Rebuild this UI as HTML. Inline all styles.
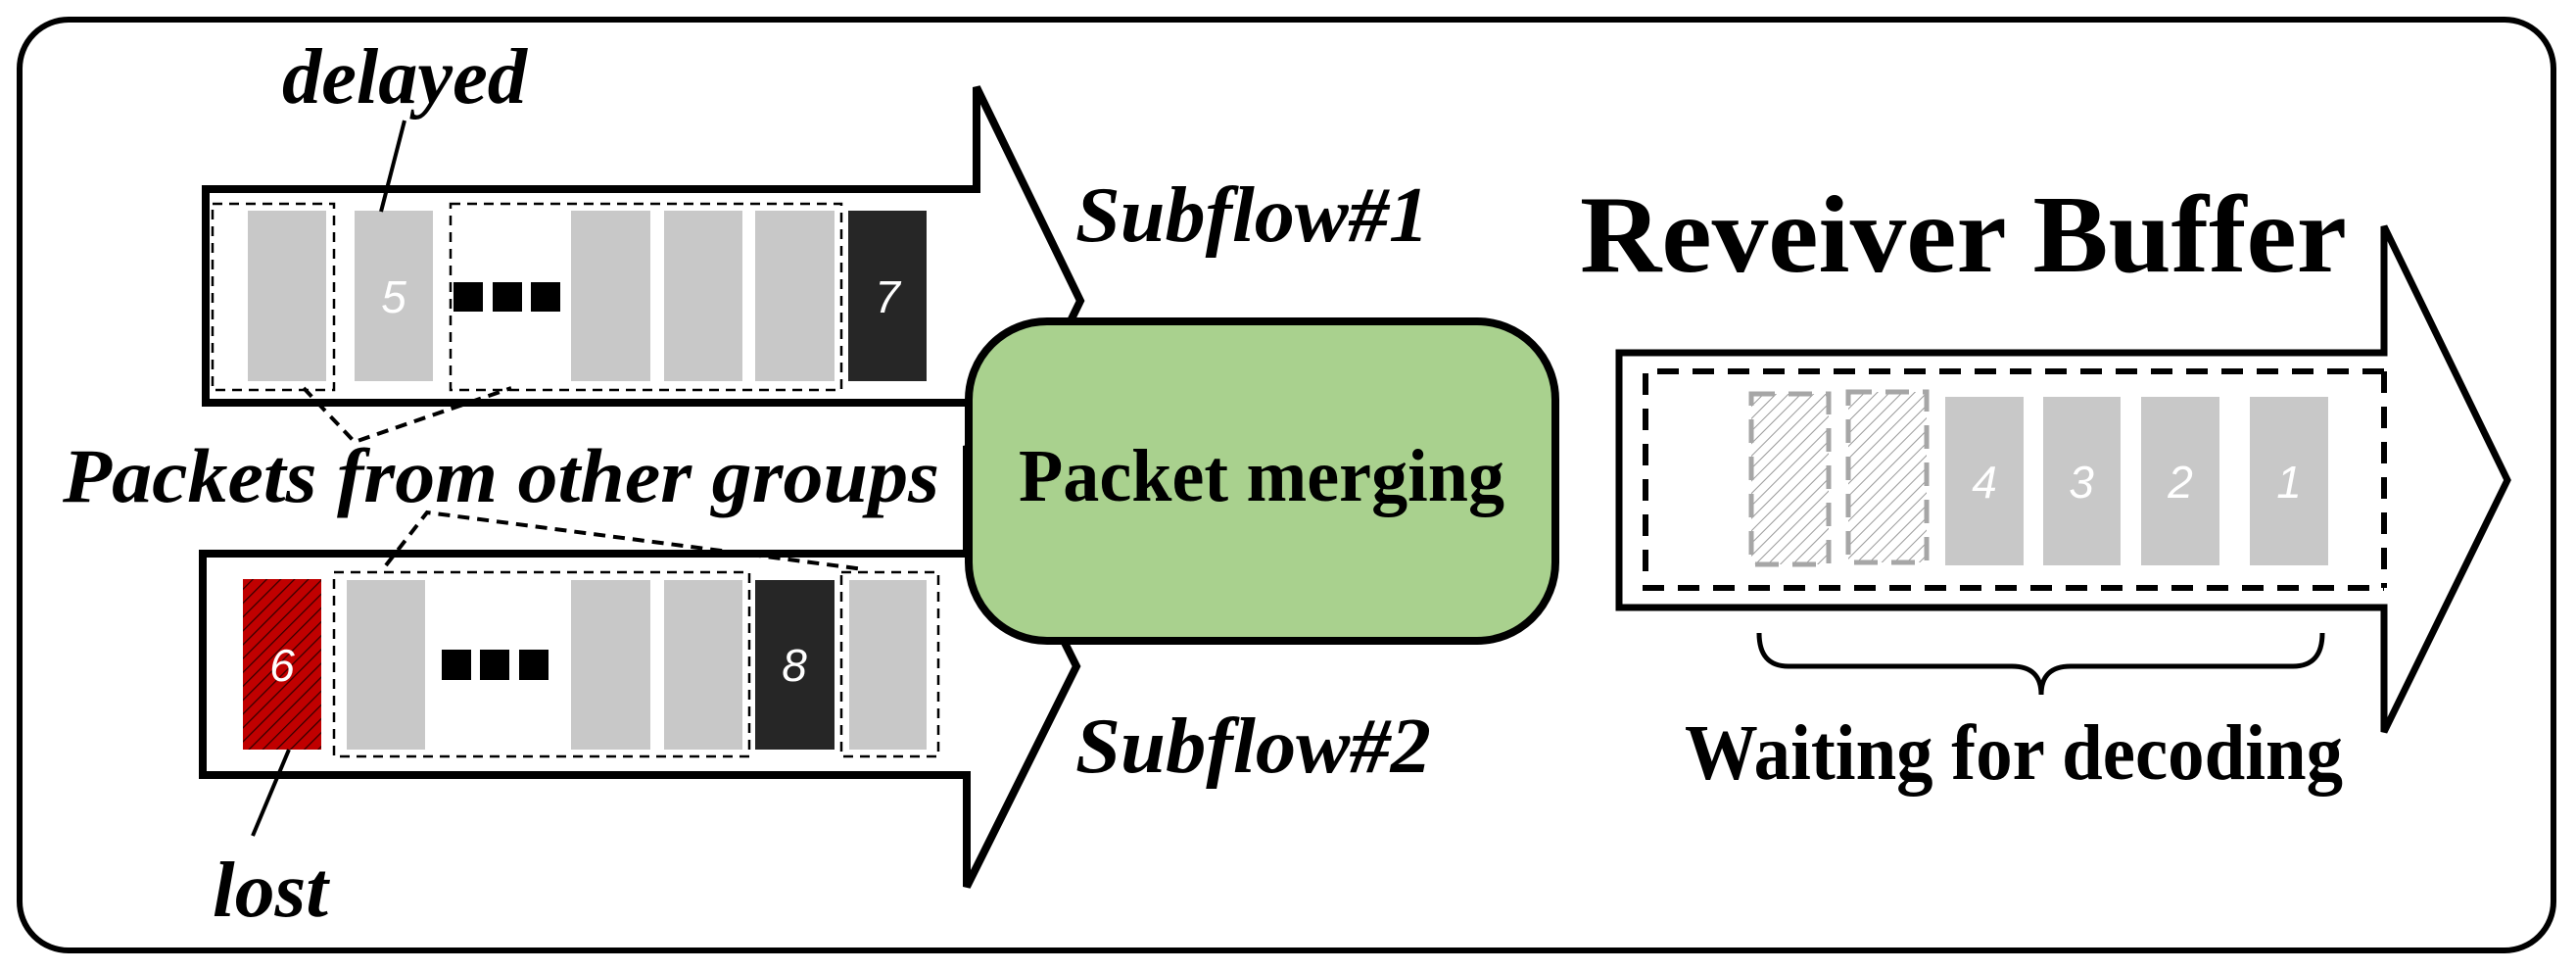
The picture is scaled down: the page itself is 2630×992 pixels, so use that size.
<!DOCTYPE html>
<html><head><meta charset="utf-8"><style>html,body{margin:0;padding:0;background:#fff}svg{display:block}</style></head>
<body>
<svg width="2630" height="992" viewBox="0 0 2630 992" xmlns="http://www.w3.org/2000/svg">
<defs>
<pattern id="red" patternUnits="userSpaceOnUse" width="10" height="10" patternTransform="rotate(45)">
<rect width="10" height="10" fill="#c00000"/><line x1="0" y1="0" x2="0" y2="10" stroke="#300" stroke-width="2.5"/></pattern>
<pattern id="gh" patternUnits="userSpaceOnUse" width="9" height="9" patternTransform="rotate(45)">
<rect width="9" height="9" fill="#fff"/><line x1="0" y1="0" x2="0" y2="9" stroke="#999" stroke-width="2"/></pattern>
</defs>
<rect x="20" y="20" width="2587" height="950" rx="50" fill="#fff" stroke="#000" stroke-width="6"/>

<polygon points="210,193 997,193 997,89 1103,307 997,525 997,411 210,411" fill="#fff" stroke="#000" stroke-width="8" stroke-linejoin="miter"/>
<polygon points="207,565 987,565 987,455 1099,680 987,905 987,791 207,791" fill="#fff" stroke="#000" stroke-width="8"/>

<g fill="#c8c8c8">
<rect x="253" y="215" width="80" height="174"/>
<rect x="362" y="215" width="80" height="174"/>
<rect x="583" y="215" width="81" height="174"/>
<rect x="678" y="215" width="80" height="174"/>
<rect x="771" y="215" width="81" height="174"/>
<rect x="354" y="592" width="80" height="173"/>
<rect x="583" y="592" width="81" height="173"/>
<rect x="678" y="592" width="80" height="173"/>
<rect x="867" y="592" width="79" height="173"/>
</g>
<rect x="866" y="215" width="80" height="174" fill="#262626"/>
<rect x="771" y="592" width="81" height="173" fill="#262626"/>
<rect x="248" y="591" width="80" height="174" fill="url(#red)"/>
<g fill="#000">
<rect x="463" y="288" width="30" height="30"/><rect x="503" y="288" width="30" height="30"/><rect x="542" y="288" width="30" height="30"/>
<rect x="451" y="663" width="30" height="31"/><rect x="490" y="663" width="30" height="31"/><rect x="530" y="663" width="30" height="31"/>
</g>
<g fill="none" stroke="#000" stroke-width="2.5" stroke-dasharray="10,7">
<rect x="217" y="208" width="124" height="190"/>
<rect x="460" y="208" width="399" height="190"/>
<rect x="341" y="584" width="424" height="188"/>
<rect x="859" y="584" width="99" height="188"/>
</g>
<g font-family="Liberation Sans, sans-serif" font-style="italic" font-size="46" fill="#fff" text-anchor="middle">
<text x="402" y="319">5</text><text x="906" y="319">7</text>
<text x="288" y="695">6</text><text x="811" y="695">8</text>
</g>

<g stroke="#000" stroke-width="4" fill="none">
<line x1="413" y1="123" x2="389" y2="216"/>
<line x1="295" y1="765" x2="258" y2="853"/>
</g>
<g stroke="#000" stroke-width="4" fill="none" stroke-dasharray="12,8">
<polyline points="310,396 362,451 522,396"/>
<polyline points="394,577 436,523 882,581"/>
</g>

<g font-family="Liberation Serif, serif" font-weight="bold" font-style="italic" fill="#000">
<text x="288" y="105" font-size="80" textLength="250" lengthAdjust="spacingAndGlyphs">delayed</text>
<text x="64" y="512" font-size="78" textLength="895" lengthAdjust="spacingAndGlyphs">Packets from other groups</text>
<text x="217" y="935" font-size="80" textLength="118" lengthAdjust="spacingAndGlyphs">lost</text>
<text x="1098" y="246" font-size="80" textLength="361" lengthAdjust="spacingAndGlyphs">Subflow#1</text>
<text x="1098" y="788" font-size="80" textLength="363" lengthAdjust="spacingAndGlyphs">Subflow#2</text>
</g>

<rect x="989" y="328" width="599" height="326" rx="80" fill="#a9d18e" stroke="#000" stroke-width="8"/>
<g font-family="Liberation Serif, serif" font-weight="bold" fill="#000">
<text x="1040" y="511" font-size="76" textLength="496" lengthAdjust="spacingAndGlyphs">Packet merging</text>
<text x="1613" y="277" font-size="112" textLength="783" lengthAdjust="spacingAndGlyphs">Reveiver Buffer</text>
<text x="1720" y="795" font-size="80" textLength="672" lengthAdjust="spacingAndGlyphs">Waiting for decoding</text>
</g>

<polygon points="1653,360 2434,360 2434,231 2560,490 2434,747 2434,620 1653,620" fill="#fff" stroke="#000" stroke-width="7"/>
<polyline points="2434,379 1680,379 1680,600 2434,600" fill="none" stroke="#000" stroke-width="6" stroke-dasharray="22,14"/>
<line x1="2434" y1="379" x2="2434" y2="600" stroke="#000" stroke-width="6" stroke-dasharray="22,14"/>
<rect x="1788" y="402" width="79" height="174" fill="url(#gh)" stroke="#a6a6a6" stroke-width="5" stroke-dasharray="24,14"/>
<rect x="1887" y="400" width="80" height="174" fill="url(#gh)" stroke="#a6a6a6" stroke-width="5" stroke-dasharray="24,14"/>
<g fill="#c8c8c8">
<rect x="1986" y="405" width="80" height="172"/>
<rect x="2086" y="405" width="79" height="172"/>
<rect x="2186" y="405" width="80" height="172"/>
<rect x="2297" y="405" width="80" height="172"/>
</g>
<g font-family="Liberation Sans, sans-serif" font-style="italic" font-size="46" fill="#fff" text-anchor="middle">
<text x="2026" y="508">4</text><text x="2125" y="508">3</text><text x="2226" y="508">2</text><text x="2337" y="508">1</text>
</g>
<path d="M1796,646 Q1796,680 1826,680 L2054,680 Q2084,680 2084,709 Q2084,680 2114,680 L2341,680 Q2371,680 2371,646" fill="none" stroke="#000" stroke-width="5"/>
</svg>
</body></html>
